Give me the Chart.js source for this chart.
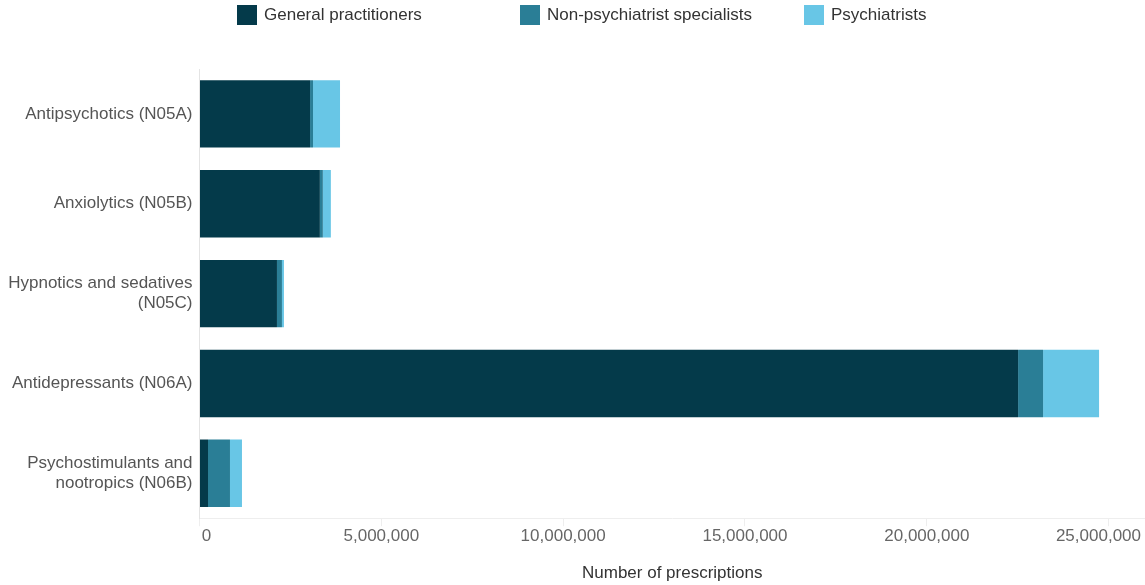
<!DOCTYPE html>
<html>
<head>
<meta charset="utf-8">
<script src="https://cdn.jsdelivr.net/npm/chart.js@4/dist/chart.umd.min.js"></script>
<style>
  html, body { margin: 0; padding: 0; background: #fff; }
  #wrap { position: relative; width: 1145px; height: 585px; }
  #legend { position: absolute; left: 0; top: 0; width: 1145px; height: 30px; font-family: "Liberation Sans", Arial, sans-serif; font-size: 17px; color: #333; }
  .item { position: absolute; top: 5px; height: 20px; line-height: 20px; white-space: nowrap; }
  .box { display: inline-block; width: 20px; height: 20px; vertical-align: top; margin-right: 7px; }
</style>
</head>
<body>
<div id="wrap">
  <canvas id="c" width="1145" height="585"></canvas>
  <div id="legend"></div>
</div>
<script>
const categories = [
  "Antipsychotics (N05A)",
  "Anxiolytics (N05B)",
  ["Hypnotics and sedatives", "(N05C)"],
  "Antidepressants (N06A)",
  ["Psychostimulants and", "nootropics (N06B)"]
];
const seriesNames = ["General practitioners", "Non-psychiatrist specialists", "Psychiatrists"];
const generalPractitioners = [3040000, 3310000, 2130000, 22510000, 234000];
const nonPsychiatristSpecialists = [82000, 82000, 137000, 687000, 604000];
const psychiatrists = [742000, 220000, 55000, 1540000, 330000];
const xTickValues = [0, 5000000, 10000000, 15000000, 20000000, 25000000];
const colors = ["#043A4A", "#2A7E96", "#68C6E6"];

const legendLeft = [237, 520, 804];
const legendEl = document.getElementById("legend");
seriesNames.forEach((n, i) => {
  const d = document.createElement("div");
  d.className = "item";
  d.style.left = legendLeft[i] + "px";
  d.innerHTML = '<span class="box" style="background:' + colors[i] + '"></span>' + n;
  legendEl.appendChild(d);
});

const FONT = "'Liberation Sans', Arial, sans-serif";

// keep first/last x tick labels inside the canvas like the reference
const edgeLabels = {
  id: "edgeLabels",
  beforeDraw(chart) {
    const s = chart.scales.x;
    const items = s.getLabelItems();
    if (!items.length) return;
    items[0].options.translation[0] += 7;
    const last = items[items.length - 1];
    last.options.textAlign = "right";
    last.options.translation[0] = chart.width - 4;
  }
};

new Chart(document.getElementById("c"), {
  type: "bar",
  data: {
    labels: categories,
    datasets: [
      { label: seriesNames[0], data: generalPractitioners, backgroundColor: colors[0] },
      { label: seriesNames[1], data: nonPsychiatristSpecialists, backgroundColor: colors[1] },
      { label: seriesNames[2], data: psychiatrists, backgroundColor: colors[2] }
    ]
  },
  plugins: [edgeLabels],
  options: {
    indexAxis: "y",
    responsive: false,
    animation: false,
    layout: { padding: { top: 69, left: 8, right: 0, bottom: 0 } },
    datasets: { bar: { categoryPercentage: 0.75, barPercentage: 1.0, borderWidth: 0 } },
    plugins: { legend: { display: false }, tooltip: { enabled: false } },
    scales: {
      x: {
        stacked: true,
        min: 0,
        max: 26000000,
        afterBuildTicks: (scale) => { scale.ticks = xTickValues.map(v => ({ value: v })); },
        afterFit: (scale) => { scale.paddingRight = 0; },
        ticks: {
          color: "#666",
          font: { family: FONT, size: 17 },
          padding: 0,
          maxRotation: 0,
          callback: (v) => Number(v).toLocaleString("en-US")
        },
        grid: { drawOnChartArea: false, drawTicks: true, tickLength: 8, color: "#eeeeee" },
        border: { display: true, color: "#eeeeee" },
        title: {
          display: true,
          text: "Number of prescriptions",
          color: "#333",
          font: { family: FONT, size: 17 },
          padding: { top: 17, bottom: 1 }
        }
      },
      y: {
        stacked: true,
        afterFit: (scale) => { scale.width = 191.5; },
        ticks: { color: "#555", font: { family: FONT, size: 17 }, padding: 7 },
        grid: { display: false, drawTicks: false },
        border: { display: true, color: "#e4e4e4", dash: [2, 2] }
      }
    }
  }
});
</script>
</body>
</html>
